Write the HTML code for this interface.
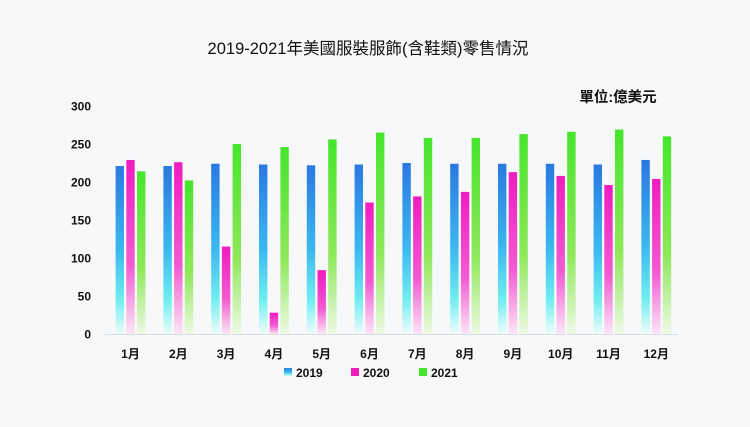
<!DOCTYPE html>
<html><head><meta charset="utf-8"><style>
body{margin:0;background:#f6f8f9;}
svg text{font-family:"Liberation Sans","Noto Sans CJK TC",sans-serif;}
</style></head><body>
<svg width="750" height="422" viewBox="0 0 750 422">
<defs>
<linearGradient id="gb" x1="0" y1="0" x2="0" y2="1"><stop offset="0" stop-color="#2a78e0"/><stop offset="0.5" stop-color="#3bb8f0"/><stop offset="0.8" stop-color="#70eef0"/><stop offset="1" stop-color="#eefcfc"/></linearGradient>
<linearGradient id="gp" x1="0" y1="0" x2="0" y2="1"><stop offset="0" stop-color="#f01cc0"/><stop offset="0.6" stop-color="#f25ad2"/><stop offset="1" stop-color="#fbe6f6"/></linearGradient>
<linearGradient id="gg" x1="0" y1="0" x2="0" y2="1"><stop offset="0" stop-color="#45e52c"/><stop offset="0.6" stop-color="#8ee85a"/><stop offset="1" stop-color="#eef9e4"/></linearGradient>
</defs>
<text x="368" y="54" text-anchor="middle" font-size="16.5" fill="#111">2019-2021年美國服裝服飾(含鞋類)零售情況</text>
<text x="618" y="102" text-anchor="middle" font-size="14.5" font-weight="bold" fill="#111">單位:億美元</text>
<g id="yaxis"></g><g id="bars"></g><g id="xaxis"></g>
<line x1="105" y1="334.5" x2="678" y2="334.5" stroke="#d8dde0" stroke-width="1"/>
<g>
<rect x="284" y="368" width="8" height="8" fill="url(#gb)"/>
<text x="296" y="377" font-size="12" font-weight="bold" fill="#111">2019</text>
<rect x="351" y="368" width="8" height="8" fill="#f01cc0"/>
<text x="363" y="377" font-size="12" font-weight="bold" fill="#111">2020</text>
<rect x="419" y="368" width="8" height="8" fill="#45e52c"/>
<text x="431" y="377" font-size="12" font-weight="bold" fill="#111">2021</text>
</g>
</svg>
<script>
const categories=["1月","2月","3月","4月","5月","6月","7月","8月","9月","10月","11月","12月"];
const s2019=[221,221,224,223,222,223,225,224,224,224,223,229];
const s2020=[229,226,115,28,84,173,181,187,213,208,196,204];
const s2021=[214,202,250,246,256,265,258,258,263,266,269,260];
const yTicks=[0,50,100,150,200,250,300];
const NS="http://www.w3.org/2000/svg";
const y0=334,k=0.76;
const yS=v=>y0-v*k;
const xC=i=>130.5+i*47.8;
const yg=document.getElementById('yaxis');
yTicks.forEach(t=>{const e=document.createElementNS(NS,'text');e.setAttribute('x',91);e.setAttribute('y',yS(t)+4.5);e.setAttribute('text-anchor','end');e.setAttribute('font-size','12');e.setAttribute('font-weight','bold');e.setAttribute('fill','#111');e.textContent=t;


yg.appendChild(e);});
const bg=document.getElementById('bars'),xg=document.getElementById('xaxis');
const series=[[s2019,'url(#gb)','2019',-10.7],[s2020,'url(#gp)','2020',0],[s2021,'url(#gg)','2021',10.7]];
categories.forEach((c,i)=>{
 series.forEach(([d,f,n,o])=>{const r=document.createElementNS(NS,'rect');r.setAttribute('x',xC(i)+o-4.2);r.setAttribute('width',8.4);r.setAttribute('y',yS(d[i]));r.setAttribute('height',d[i]*k);r.setAttribute('fill',f);
 
 
 bg.appendChild(r);});
 const t=document.createElementNS(NS,'text');t.setAttribute('x',xC(i));t.setAttribute('y',358);t.setAttribute('text-anchor','middle');t.setAttribute('font-size','12');t.setAttribute('font-weight','bold');t.setAttribute('fill','#111');t.textContent=c;
 
 
 xg.appendChild(t);
});
</script>
</body></html>
